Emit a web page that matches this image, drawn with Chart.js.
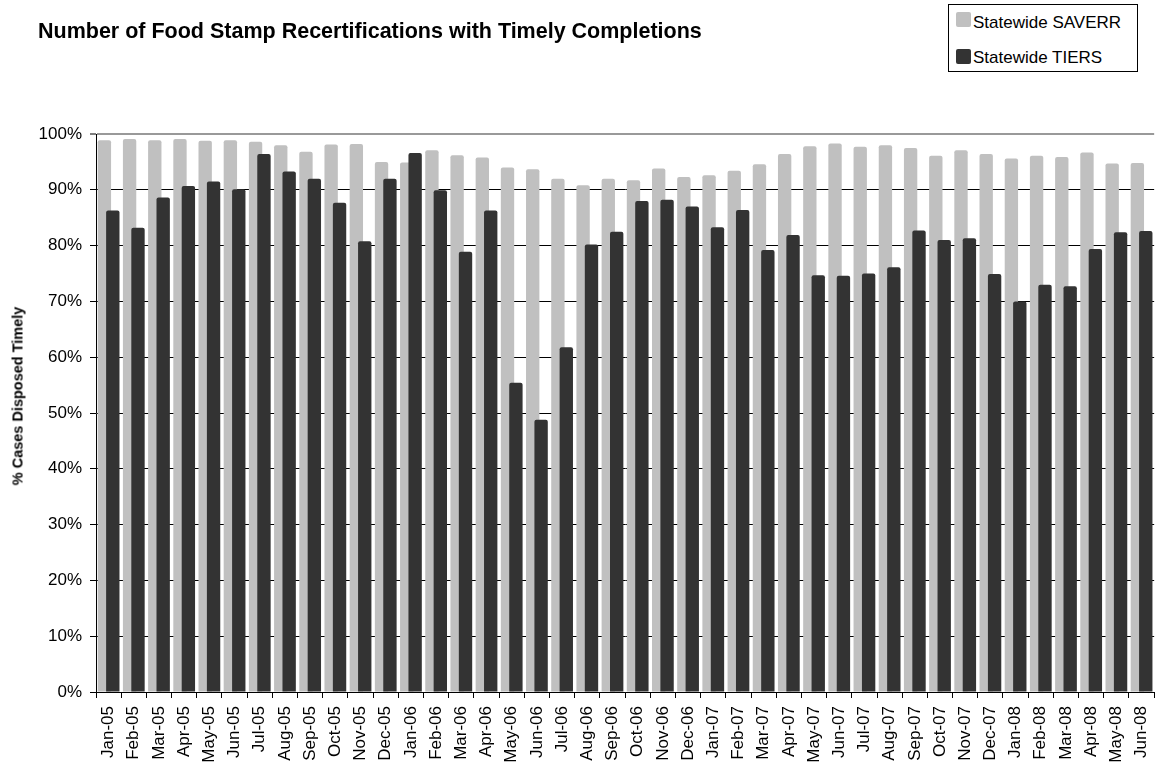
<!DOCTYPE html>
<html>
<head>
<meta charset="utf-8">
<script src="https://cdn.jsdelivr.net/npm/chart.js@4.4.1/dist/chart.umd.min.js"></script>
<style>
    html, body { margin: 0; padding: 0; overflow: hidden; background: #fff; }
    body { font-family: "Liberation Sans", Arial, sans-serif; color: #000; }
    #timely-chart { position: absolute; left: 0; top: 0; }
    .chart-title { position: absolute; left: 38px; top: 21px; font-size: 21.5px; line-height: 21px; font-weight: bold; white-space: nowrap; }
    .y-title { position: absolute; left: 18px; top: 396px; font-size: 14.5px; line-height: 15px; font-weight: bold; white-space: nowrap; transform: translate(-50%, -50%) rotate(-90deg); }
    .legend-box { position: absolute; left: 948px; top: 4px; width: 188px; height: 66px; border: 1px solid #000; background: #fff; }
    .legend-swatch { position: absolute; left: 7px; width: 15px; height: 15px; border-radius: 2px; }
    .legend-text { position: absolute; left: 24px; font-size: 17px; line-height: 17px; white-space: nowrap; }
</style>
</head>
<body>
<canvas id="timely-chart" width="1170" height="766"></canvas>
<div class="chart-title">Number of Food Stamp Recertifications with Timely Completions</div>
<div class="y-title">% Cases Disposed Timely</div>
<div class="legend-box">
    <div class="legend-swatch" style="top:7px;background:#c0c0c0"></div>
    <div class="legend-text" style="top:9px">Statewide SAVERR</div>
    <div class="legend-swatch" style="top:44px;background:#333333"></div>
    <div class="legend-text" style="top:44px">Statewide TIERS</div>
</div>
<script>
const months = [
    "Jan-05", "Feb-05", "Mar-05", "Apr-05", "May-05", "Jun-05", "Jul-05", "Aug-05", "Sep-05", "Oct-05", "Nov-05", "Dec-05",
    "Jan-06", "Feb-06", "Mar-06", "Apr-06", "May-06", "Jun-06", "Jul-06", "Aug-06", "Sep-06", "Oct-06", "Nov-06", "Dec-06",
    "Jan-07", "Feb-07", "Mar-07", "Apr-07", "May-07", "Jun-07", "Jul-07", "Aug-07", "Sep-07", "Oct-07", "Nov-07", "Dec-07",
    "Jan-08", "Feb-08", "Mar-08", "Apr-08", "May-08", "Jun-08"
];
const saverrPct = [
    98.9, 99.1, 98.9, 99.1, 98.8, 98.9, 98.6, 98.0, 96.8, 98.1, 98.2, 95.0,
    94.9, 97.1, 96.2, 95.8, 94.0, 93.7, 92.0, 90.8, 92.0, 91.7, 93.8, 92.3,
    92.6, 93.4, 94.6, 96.4, 97.8, 98.3, 97.7, 98.0, 97.5, 96.1, 97.1, 96.4,
    95.6, 96.1, 95.9, 96.7, 94.7, 94.8
];
const tiersPct = [
    86.3, 83.2, 88.6, 90.7, 91.5, 90.1, 96.4, 93.3, 92.0, 87.7, 80.8, 92.0,
    96.6, 89.9, 78.9, 86.3, 55.4, 48.8, 61.8, 80.2, 82.5, 88.0, 88.2, 87.0,
    83.3, 86.4, 79.2, 81.9, 74.7, 74.6, 75.0, 76.1, 82.7, 81.0, 81.3, 74.9,
    70.0, 73.0, 72.7, 79.4, 82.4, 82.6
];
const seriesNames = ["Statewide SAVERR", "Statewide TIERS"];
const seriesColors = ["#c0c0c0", "#333333"];

const fontFamily = "'Liberation Sans', Arial, sans-serif";

// SAVERR bars go first so the TIERS bars overlap them
const saverrBehind = {
    id: "saverrBehind",
    beforeDatasetsDraw(chart) {
        chart.getDatasetMeta(0).controller.draw();
    },
    beforeDatasetDraw(chart, args) {
        if (args.index === 0) return false;
    }
};

new Chart(document.getElementById("timely-chart"), {
    type: "bar",
    data: {
        labels: months,
        datasets: [
            { label: seriesNames[0], data: saverrPct, backgroundColor: seriesColors[0] },
            { label: seriesNames[1], data: tiersPct, backgroundColor: seriesColors[1] }
        ]
    },
    options: {
        responsive: false,
        animation: false,
        devicePixelRatio: 1,
        layout: { padding: { top: 134, right: 3, bottom: 0, left: 0 } },
        datasets: {
            bar: {
                categoryPercentage: 0.667,
                barPercentage: 1.59,
                borderRadius: 2,
                borderSkipped: "start"
            }
        },
        plugins: {
            legend: { display: false },
            title: { display: false },
            tooltip: { enabled: false }
        },
        scales: {
            x: {
                grid: { offset: true, drawOnChartArea: false, drawTicks: true, tickLength: 6, color: "#000" },
                border: { color: "#000", width: 1 },
                ticks: {
                    autoSkip: false,
                    minRotation: 90,
                    maxRotation: 90,
                    padding: 8,
                    color: "#000",
                    font: { family: fontFamily, size: 17 }
                },
                afterFit(scale) { scale.height = 74; }
            },
            y: {
                min: 0,
                max: 100,
                ticks: {
                    stepSize: 10,
                    padding: 8,
                    color: "#000",
                    font: { family: fontFamily, size: 17 },
                    callback: (v) => v + "%"
                },
                grid: {
                    color: (ctx) => ctx.tick && ctx.tick.value === 100 ? "#999" : "#000",
                    lineWidth: (ctx) => ctx.tick && ctx.tick.value === 100 ? 2 : 1,
                    tickColor: "#000",
                    tickWidth: 1,
                    tickLength: 6
                },
                border: { color: "#000", width: 1 },
                afterFit(scale) { scale.width = 96; }
            }
        }
    },
    plugins: [saverrBehind]
});
</script>
</body>
</html>
